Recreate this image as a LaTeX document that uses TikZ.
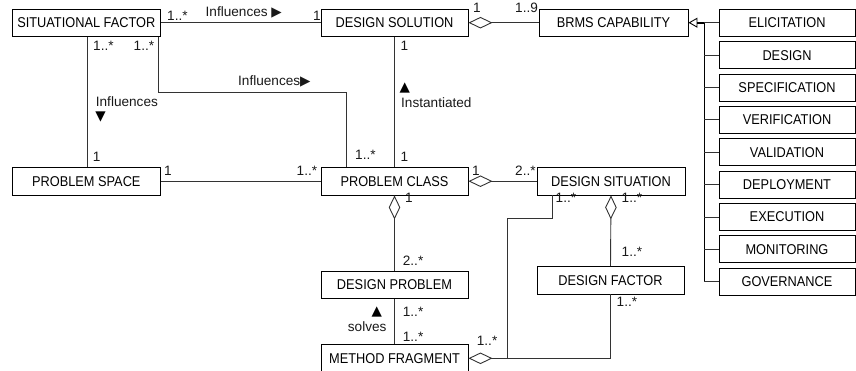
\documentclass[tikz,border=0pt]{standalone}
\usepackage{fontspec}
\setmainfont{Liberation Sans}
\newfontfamily\boxfont[FakeStretch=0.9]{Liberation Sans}
\newfontfamily\symfont{DejaVu Sans}
\usetikzlibrary{arrows.meta}
\newcommand{\tri}[1]{{\symfont\fontsize{13.5}{13.5}\selectfont #1}}
\begin{document}
\begin{tikzpicture}[x=1pt,y=-1pt,
  cls/.style={draw=black, line width=0.9pt, fill=white, minimum width=147pt,
    minimum height=27.5pt, inner sep=0pt,
    font=\boxfont\fontsize{14.2}{16}\selectfont},
  sub/.style={cls, minimum width=136pt, minimum height=27pt},
  conn/.style={draw=black!80, line width=0.9pt},
  agg/.style={conn, {Diamond[open, length=24pt, width=11.5pt]}-},
  trunk/.style={draw=black, line width=1.6pt},
  lbl/.style={anchor=base west, inner sep=0pt, text=black!90,
    font=\fontsize{13.6}{15}\selectfont}]
\useasboundingbox (0,0) rectangle (856,370);

% classes
\node[cls, minimum width=148pt] (SF)   at (86.3,22.7)  {SITUATIONAL FACTOR};
\node[cls] (DS)   at (394.5,22.7) {DESIGN SOLUTION};
\node[cls, minimum width=149pt] (BRMS) at (613.5,22.7) {BRMS CAPABILITY};
\node[cls, minimum width=148pt] (PS)   at (86.3,181.2) {PROBLEM SPACE};
\node[cls] (PC)   at (394.5,181.2) {PROBLEM CLASS};
\node[cls, minimum width=148pt] (DSit) at (611,181.2)  {DESIGN SITUATION};
\node[cls] (DP)   at (394.5,285)   {DESIGN PROBLEM};
\node[cls] (DF)   at (610.5,280.2) {DESIGN FACTOR};
\node[cls, minimum height=28pt] (MF) at (394.5,358.3) {METHOD FRAGMENT};

% BRMS capability specialisations
\node[sub] (ELI) at (787,22.8)  {ELICITATION};
\node[sub] (DES) at (787,55.2)  {DESIGN};
\node[sub] (SPE) at (787,87.5)  {SPECIFICATION};
\node[sub] (VER) at (787,119.9) {VERIFICATION};
\node[sub] (VAL) at (787,152.3) {VALIDATION};
\node[sub] (DEP) at (787,184.7) {DEPLOYMENT};
\node[sub] (EXE) at (787,217)   {EXECUTION};
\node[sub] (MON) at (787,249.4) {MONITORING};
\node[sub] (GOV) at (787,281.8) {GOVERNANCE};

% helper points of the routed connectors
\coordinate (tr) at (704.3,0);
\coordinate (kn) at (507.3,218.3);
\coordinate (jn) at (507.3,358.3);

% generalisation tree
\draw[trunk, {Triangle[open, length=9pt, width=10pt, line width=0.9pt]}-]
  (BRMS.east) -- (tr |- BRMS.east) -- (tr |- GOV.west);
\foreach \n in {ELI,DES,SPE,VER,VAL,DEP,EXE,MON,GOV}
  \draw[conn] (tr |- \n.west) -- (\n.west);

% associations
\draw[conn] (SF.east) -- (DS.west);
\draw[conn] (SF.south -| 87.3,0) -- (PS.north -| 87.3,0);
\draw[conn] ([xshift=-2.7pt]SF.south east) -- ++(0,55.5) -| ([xshift=25.7pt]PC.north west);
\draw[conn] (DS.south) -- (PC.north);
\draw[agg] (DS.east) -- (BRMS.west);
\draw[conn] (PS.east) -- (PC.west);
\draw[agg] (PC.east) -- (DSit.west);
\draw[agg] (PC.south) -- (DP.north);
\draw[conn] (DP.south) -- (MF.north);
\draw[agg] (DSit.south) -- (DF.north);
\draw[conn] ([xshift=16.3pt]DSit.south west) |- (kn) -- (jn);
\draw[agg] (MF.east) -- (jn) -| (DF.south);

% multiplicities and role labels
\node[lbl] (m1)  at (167,20.7)   {1..*};
\node[lbl] (r1)  at (205.5,16.7) {Influences \tri{▶}};
\node[lbl] (m2)  at (313,20.5)   {1};
\node[lbl] (m3)  at (473,12.7)   {1};
\node[lbl] (m4)  at (515,12.7)   {1..9};
\node[lbl] (m5)  at (93,50)      {1..*};
\node[lbl] (m6)  at (133.5,50)   {1..*};
\node[lbl] (r2)  at (238,85)     {Influences\tri{▶}};
\node[lbl] (r3)  at (95.7,106.8) {Influences};
\node[anchor=center, inner sep=0pt] (a3) at (100.5,117) {\tri{▼}};
\node[lbl] (m7)  at (92.7,161.7) {1};
\node[lbl] (m8)  at (355,159.3)  {1..*};
\node[lbl] (m9)  at (400.5,50.5) {1};
\node[anchor=center, inner sep=0pt] (a4) at (404.7,87.5) {\tri{▲}};
\node[lbl] (r4)  at (401,107.3)  {Instantiated};
\node[lbl] (m10) at (400.5,161.7) {1};
\node[lbl] (m11) at (164,175)    {1};
\node[lbl] (m12) at (296.5,175)  {1..*};
\node[lbl] (m13) at (472,175)    {1};
\node[lbl] (m14) at (515,175)    {2..*};
\node[lbl] (m15) at (405,202.7)  {1};
\node[lbl] (m16) at (555.5,202.7) {1..*};
\node[lbl] (m17) at (621.5,202.7) {1..*};
\node[lbl] (m18) at (402.7,265)  {2..*};
\node[lbl] (m19) at (621.5,256.7) {1..*};
\node[lbl] (m20) at (402.7,316)  {1..*};
\node[anchor=center, inner sep=0pt] (a5) at (376.7,311.7) {\tri{▲}};
\node[lbl] (r5)  at (347.7,331.7) {solves};
\node[lbl] (m21) at (402.7,341.7) {1..*};
\node[lbl] (m22) at (476.7,345)  {1..*};
\node[lbl] (m23) at (616.5,306.7) {1..*};
\end{tikzpicture}
\end{document}
